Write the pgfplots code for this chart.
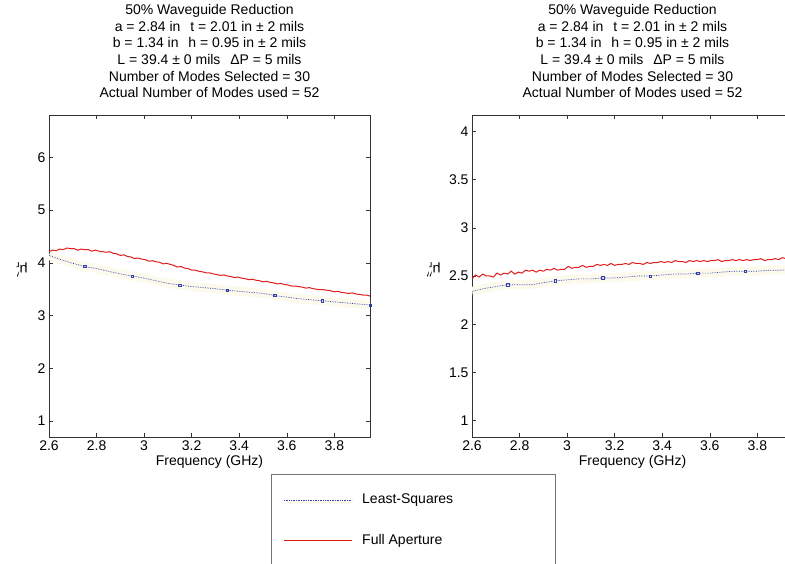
\documentclass[border=0pt]{standalone}
\usepackage{amsmath}
\usepackage{fontspec}
\setmainfont{Liberation Sans}
\usepackage{pgfplots}
\pgfplotsset{compat=1.18}

\definecolor{lsblue}{RGB}{52,62,176}
\definecolor{farred}{RGB}{226,28,28}
\definecolor{haze}{RGB}{251,250,236}

\tikzset{
  lsqline/.style={draw=lsblue, color=lsblue, densely dotted, line width=0.7pt},
  faline/.style={draw=farred, color=farred, line width=1pt},
}

\pgfplotsset{
  mplot/.style={
    scale only axis, width=321pt, height=322pt,
    anchor=south west,
    xmin=2.6, xmax=3.95,
    xtick={2.6,2.8,...,3.8},
    tick align=inside, major tick length=4pt,
    axis line style={black!80}, every tick/.style={black!80},
    /pgf/number format/assume math mode=true,
    tick label style={font=\fontsize{14}{16}\selectfont},
    label style={font=\fontsize{14}{16}\selectfont},
    xlabel={Frequency (GHz)},
    xlabel style={at={(axis description cs:0.5,-0.055)}, anchor=north, inner sep=0pt},
    title style={font=\fontsize{14}{16.6}\selectfont, align=center,
      at={(axis description cs:0.5,1)}, anchor=south, inner sep=0pt, yshift=11pt},
    title={50\% Waveguide Reduction\\
      a = 2.84 in\hspace{0.7em}t = 2.01 in ± 2 mils\\
      b = 1.34 in\hspace{0.7em}h = 0.95 in ± 2 mils\\
      L = 39.4 ± 0 mils\hspace{0.7em}ΔP = 5 mils\\
      Number of Modes Selected = 30\\
      Actual Number of Modes used = 52},
  },
  lsq/.style={lsqline,
    mark=square, mark size=1.2pt, mark options={solid, line width=0.5pt},
    mark repeat=4, mark phase=4},
  hz/.style={color=haze, line width=9pt, forget plot},
}

\pgfplotstableread{
f v
2.600 4.21
2.615 4.24
2.630 4.23
2.645 4.26
2.660 4.25
2.675 4.28
2.690 4.27
2.705 4.27
2.720 4.24
2.735 4.26
2.750 4.25
2.765 4.25
2.780 4.22
2.795 4.24
2.810 4.22
2.825 4.21
2.840 4.20
2.855 4.21
2.870 4.18
2.885 4.17
2.900 4.14
2.915 4.15
2.930 4.12
2.945 4.11
2.960 4.08
2.975 4.09
2.990 4.07
3.005 4.06
3.020 4.03
3.035 4.04
3.050 4.02
3.065 4.01
3.080 3.98
3.095 3.99
3.110 3.97
3.125 3.95
3.140 3.92
3.155 3.93
3.170 3.90
3.185 3.89
3.200 3.86
3.215 3.86
3.230 3.84
3.245 3.83
3.260 3.81
3.275 3.81
3.290 3.79
3.305 3.78
3.320 3.76
3.335 3.77
3.350 3.75
3.365 3.74
3.380 3.72
3.395 3.73
3.410 3.71
3.425 3.70
3.440 3.68
3.455 3.69
3.470 3.67
3.485 3.66
3.500 3.64
3.515 3.65
3.530 3.63
3.545 3.62
3.560 3.60
3.575 3.61
3.590 3.59
3.605 3.58
3.620 3.56
3.635 3.56
3.650 3.55
3.665 3.54
3.680 3.52
3.695 3.53
3.710 3.51
3.725 3.50
3.740 3.49
3.755 3.49
3.770 3.48
3.785 3.47
3.800 3.45
3.815 3.46
3.830 3.44
3.845 3.43
3.860 3.42
3.875 3.43
3.890 3.41
3.905 3.40
3.920 3.39
3.935 3.39
3.950 3.37
}\fullre

\pgfplotstableread{
f v
2.60 4.14
2.65 4.06
2.70 3.99
2.75 3.93
2.80 3.89
2.85 3.84
2.90 3.79
2.95 3.75
3.00 3.71
3.05 3.66
3.10 3.61
3.15 3.58
3.20 3.55
3.25 3.53
3.30 3.51
3.35 3.48
3.40 3.46
3.45 3.44
3.50 3.42
3.55 3.38
3.60 3.35
3.65 3.32
3.70 3.30
3.75 3.28
3.80 3.26
3.85 3.24
3.90 3.22
3.95 3.20
}\lsqre

\pgfplotstableread{
f v
2.600 2.47
2.615 2.51
2.630 2.49
2.645 2.52
2.660 2.50
2.675 2.50
2.690 2.49
2.705 2.53
2.720 2.51
2.735 2.53
2.750 2.52
2.765 2.55
2.780 2.52
2.795 2.54
2.810 2.53
2.825 2.56
2.840 2.55
2.855 2.56
2.870 2.54
2.885 2.56
2.900 2.55
2.915 2.57
2.930 2.56
2.945 2.58
2.960 2.56
2.975 2.57
2.990 2.57
3.005 2.60
3.020 2.58
3.035 2.59
3.050 2.59
3.065 2.61
3.080 2.59
3.095 2.60
3.110 2.60
3.125 2.62
3.140 2.61
3.155 2.62
3.170 2.61
3.185 2.63
3.200 2.61
3.215 2.62
3.230 2.62
3.245 2.63
3.260 2.62
3.275 2.64
3.290 2.63
3.305 2.63
3.320 2.62
3.335 2.64
3.350 2.63
3.365 2.64
3.380 2.64
3.395 2.65
3.410 2.64
3.425 2.65
3.440 2.64
3.455 2.66
3.470 2.65
3.485 2.65
3.500 2.64
3.515 2.66
3.530 2.65
3.545 2.66
3.560 2.65
3.575 2.66
3.590 2.65
3.605 2.66
3.620 2.66
3.635 2.67
3.650 2.65
3.665 2.66
3.680 2.66
3.695 2.67
3.710 2.66
3.725 2.67
3.740 2.66
3.755 2.67
3.770 2.66
3.785 2.67
3.800 2.67
3.815 2.68
3.830 2.66
3.845 2.67
3.860 2.67
3.875 2.68
3.890 2.67
3.905 2.69
3.920 2.68
3.935 2.68
3.950 2.68
}\fullim

\pgfplotstableread{
f v
2.60 2.34
2.65 2.37
2.70 2.39
2.75 2.41
2.80 2.41
2.85 2.41
2.90 2.43
2.95 2.45
3.00 2.46
3.05 2.47
3.10 2.47
3.15 2.48
3.20 2.48
3.25 2.49
3.30 2.50
3.35 2.50
3.40 2.51
3.45 2.52
3.50 2.52
3.55 2.53
3.60 2.53
3.65 2.54
3.70 2.55
3.75 2.55
3.80 2.55
3.85 2.56
3.90 2.56
3.95 2.57
}\lsqim

\begin{document}
\begin{tikzpicture}
\begin{axis}[mplot, at={(49pt,126pt)},
  ymin=0.7, ymax=6.8, ytick={1,2,...,6},
  ylabel={μ$^{\prime}_{\text{r}}$},
  ylabel style={at={(axis description cs:-0.085,0.52)}, anchor=center, rotate=90},
]
\addplot[hz] table {\lsqre};
\addplot[lsq] table {\lsqre};
\addplot[faline] table {\fullre};
\end{axis}

\begin{axis}[mplot, at={(472pt,126pt)},
  ymin=0.83, ymax=4.17, ytick={1,1.5,...,4},
  ylabel={μ$^{\prime\prime}_{\text{r}}$},
  ylabel style={at={(axis description cs:-0.12,0.52)}, anchor=center, rotate=90},
]
\addplot[hz] table {\lsqim};
\addplot[lsq] table {\lsqim};
\addplot[faline] table {\fullim};
\end{axis}

% legend box, as in the figure
\draw[black!55, line width=0.8pt] (555pt,-5pt) -- (555pt,89pt) -- (271pt,89pt) -- (271pt,-5pt);
\draw[haze, line width=3pt] (284pt,61pt) -- (352pt,61pt);
\draw[lsqline] (284pt,63pt) -- (352pt,63pt);
\node[anchor=west, inner sep=0pt, font=\fontsize{14}{16}\selectfont] at (362pt,63pt) {Least-Squares};
\draw[faline] (284pt,22.5pt) -- (352pt,22.5pt);
\node[anchor=west, inner sep=0pt, font=\fontsize{14}{16}\selectfont] at (362pt,22pt) {Full Aperture};

\pgfresetboundingbox
\path[use as bounding box] (0pt,0pt) rectangle (785pt,563pt);
\end{tikzpicture}
\end{document}
